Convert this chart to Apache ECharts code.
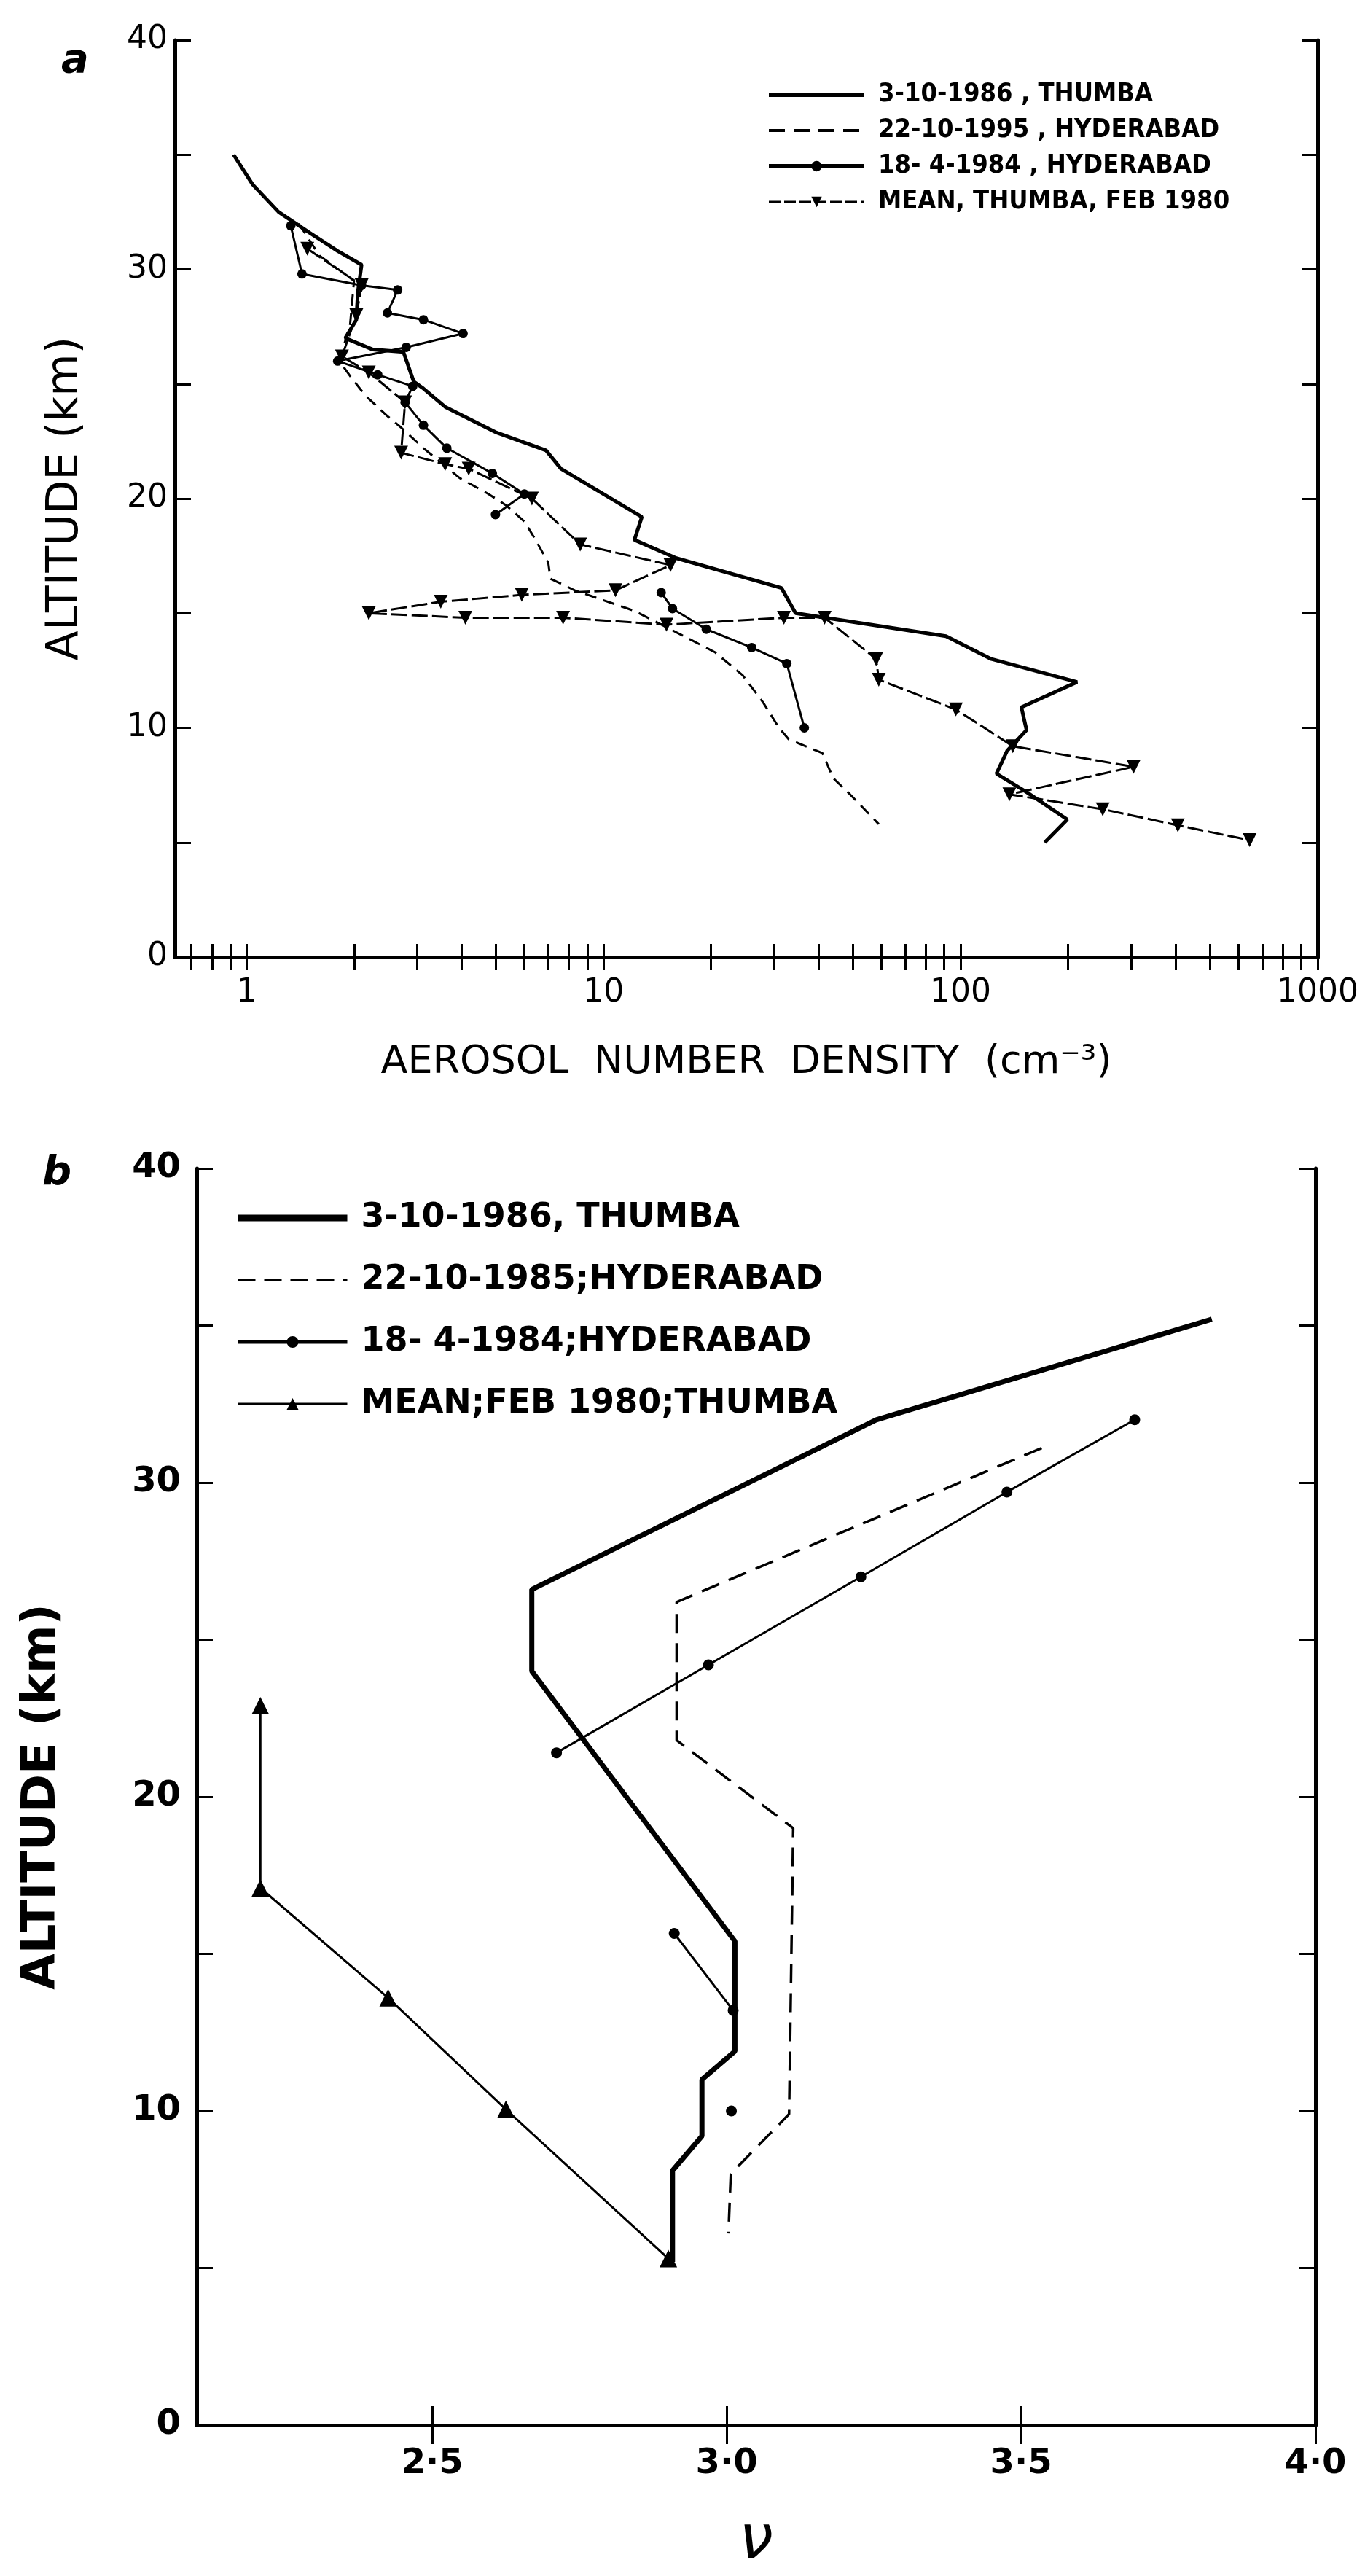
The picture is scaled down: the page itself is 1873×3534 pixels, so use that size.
<!DOCTYPE html>
<html>
<head>
<meta charset="utf-8">
<title>Aerosol profiles</title>
<script src="https://cdn.jsdelivr.net/npm/echarts/dist/echarts.min.js"></script>
<style>
  html, body { margin: 0; padding: 0; background: #fff; }
  #chart { width: 1873px; height: 3534px; }
</style>
</head>
<body>
<div id="chart"></div>
<script>
// ---- panel a : aerosol number density (cm-3) vs altitude (km) ----
var thumba86A = [
  [0.92, 35.0], [1.04, 33.7], [1.23, 32.5], [1.5, 31.6], [1.8, 30.8], [2.1, 30.2],
  [2.05, 29.0], [2.03, 27.8], [1.89, 27.0], [2.26, 26.5], [2.75, 26.4], [2.94, 25.1],
  [3.13, 24.8], [3.6, 24.0], [4.98, 22.9], [6.9, 22.1], [7.6, 21.3], [12.8, 19.2],
  [12.2, 18.2], [16, 17.4], [31.5, 16.1], [34.5, 15.0], [91, 14.0], [122, 13.0],
  [212, 12.0], [148, 10.9], [153, 9.9], [135, 9.0], [126, 8.0], [153, 7.2],
  [199, 6.0], [172, 5.0]
];
var hyd85A = [
  [1.4, 32.0], [1.6, 30.6], [2.0, 29.5], [1.95, 27.6], [1.82, 26.0], [1.96, 25.3],
  [2.15, 24.5], [2.48, 23.6], [2.71, 23.1], [3.13, 22.2], [3.95, 20.9], [4.76, 20.2],
  [5.34, 19.7], [6.0, 19.0], [6.45, 18.2], [7.0, 17.2], [7.1, 16.5], [8.3, 16.0],
  [12.2, 15.1], [16.3, 14.1], [20.5, 13.3], [24.5, 12.3], [28, 11.1], [31, 10.0],
  [33, 9.5], [41, 8.9], [44, 7.8], [49, 7.1], [59, 5.8]
];
var hyd84A_upper = [
  [1.33, 31.9], [1.43, 29.8], [2.1, 29.3], [2.65, 29.1], [2.48, 28.1], [3.13, 27.8],
  [4.04, 27.2], [2.8, 26.6], [1.8, 26.0], [2.33, 25.4], [2.92, 24.9], [2.78, 24.2],
  [3.13, 23.2], [3.64, 22.2], [4.88, 21.1], [6.0, 20.2], [4.98, 19.3]
];
var hyd84A_lower = [
  [14.5, 15.9], [15.6, 15.2], [19.4, 14.3], [26, 13.5], [32.6, 12.8], [36.5, 10.0]
];
var meanA = [
  [1.48, 30.9], [2.1, 29.3], [2.03, 28.0], [1.85, 26.2], [2.2, 25.5], [2.78, 24.2],
  [2.71, 22.0], [3.6, 21.5], [4.19, 21.3], [6.3, 20.0], [8.6, 18.0], [15.4, 17.1],
  [10.8, 16.0], [5.9, 15.8], [3.5, 15.5], [2.2, 15.0], [4.1, 14.8], [7.7, 14.8],
  [15, 14.5], [32, 14.8], [41.6, 14.8], [58, 13.0], [59, 12.1], [97, 10.8],
  [140, 9.2], [305, 8.3], [137, 7.1], [250, 6.45], [406, 5.75], [645, 5.1]
];
var tickLabelsA = [1, 10, 100, 1000];
var tickMarksA = [0.7, 0.8, 0.9, 1, 2, 3, 4, 5, 6, 7, 8, 9, 10, 20, 30, 40, 50, 60, 70, 80, 90,
  100, 200, 300, 400, 500, 600, 700, 800, 900, 1000];
var namesA = ['3-10-1986 , THUMBA', '22-10-1995 , HYDERABAD', '18- 4-1984 , HYDERABAD', 'MEAN, THUMBA, FEB 1980'];

// ---- panel b : nu vs altitude (km) ----
var thumba86B = [
  [3.824, 35.2], [3.254, 32.0], [2.669, 26.6], [2.669, 24.0], [3.014, 15.4], [3.014, 11.9],
  [2.958, 11.0], [2.958, 9.2], [2.908, 8.1], [2.908, 5.2]
];
var hyd85B = [
  [3.535, 31.1], [2.915, 26.2], [2.915, 21.8], [3.113, 19.0], [3.106, 9.9], [3.007, 8.0], [3.003, 6.1]
];
var hyd84B_upper = [[2.711, 21.4], [2.969, 24.2], [3.228, 27.0], [3.476, 29.7], [3.693, 32.0]];
var hyd84B_mid = [[2.911, 15.65], [3.011, 13.2]];
var hyd84B_low = [[3.008, 10.0]];
var meanB = [[2.208, 22.9], [2.208, 17.1], [2.425, 13.6], [2.625, 10.05], [2.901, 5.3]];
var tickLabelsB = [2.5, 3.0, 3.5, 4.0];
var namesB = ['3-10-1986, THUMBA', '22-10-1985;HYDERABAD', '18- 4-1984;HYDERABAD', 'MEAN;FEB 1980;THUMBA'];

var FONT = "'DejaVu Sans', sans-serif";
var FONT_NARROW = "'DejaVu Sans Condensed', 'DejaVu Sans', sans-serif";
var INK = '#000';
var NO_MARK = { color: 'rgba(0,0,0,0)', borderWidth: 0 };

function yAxes(gridIndex, labelSize, bold, nameSize, nameGap) {
  var weight = bold ? 'bold' : 'normal';
  var base = {
    gridIndex: gridIndex, type: 'value', min: 0, max: 40, interval: 5,
    axisLine: { show: true, lineStyle: { color: INK, width: 5 } },
    axisTick: { show: true, inside: true, length: 22, lineStyle: { color: INK, width: 3 } },
    splitLine: { show: false }
  };
  var left = Object.assign({}, base, {
    position: 'left',
    name: 'ALTITUDE (km)', nameLocation: 'middle', nameGap: nameGap,
    nameTextStyle: { color: INK, fontSize: nameSize, fontFamily: FONT, fontWeight: weight },
    axisLabel: {
      show: true, margin: bold ? 22 : 10, color: INK, fontSize: labelSize, fontFamily: FONT,
      fontWeight: weight,
      formatter: function (v) { return v % 10 === 0 ? String(v) : ''; }
    }
  });
  var right = Object.assign({}, base, { position: 'right', axisLabel: { show: false } });
  return [left, right];
}

var yA = yAxes(0, 44, false, 60, 120);
var yB = yAxes(1, 48, true, 64, 180);

var option = {
  animation: false,
  backgroundColor: '#fff',
  grid: [
    { left: 240, top: 55, width: 1568, height: 1258 },
    { left: 270, top: 1603, width: 1535, height: 1724 }
  ],
  xAxis: [
    {
      gridIndex: 0, type: 'log', logBase: 10, min: 0.63, max: 1000, position: 'bottom',
      name: 'AEROSOL  NUMBER  DENSITY  (cm⁻³)', nameLocation: 'middle', nameGap: 118,
      nameTextStyle: { color: INK, fontSize: 54, fontFamily: FONT },
      axisLine: { show: true, lineStyle: { color: INK, width: 5 } },
      axisTick: { show: true, inside: true, length: 18, customValues: tickMarksA, lineStyle: { color: INK, width: 3 } },
      axisLabel: {
        show: true, margin: 28, color: INK, fontSize: 44, fontFamily: FONT, customValues: tickLabelsA,
        formatter: function (v) { return String(Math.round(v)); }
      },
      splitLine: { show: false }, minorTick: { show: false }
    },
    {
      gridIndex: 0, type: 'log', logBase: 10, min: 0.63, max: 1000, position: 'top',
      axisLine: { show: true, lineStyle: { color: INK, width: 5 } },
      axisTick: { show: true, inside: true, length: 18, customValues: tickMarksA, lineStyle: { color: INK, width: 3 } },
      axisLabel: { show: false }, splitLine: { show: false }
    },
    {
      gridIndex: 1, type: 'value', min: 2.1, max: 4.0, position: 'bottom',
      name: 'ν', nameLocation: 'middle', nameGap: 118,
      nameTextStyle: { color: INK, fontSize: 84, fontFamily: FONT, fontStyle: 'italic' },
      axisLine: { show: true, lineStyle: { color: INK, width: 5 } },
      axisTick: { show: true, inside: true, length: 26, customValues: tickLabelsB, lineStyle: { color: INK, width: 3 } },
      axisLabel: {
        show: true, margin: 30, color: INK, fontSize: 48, fontFamily: FONT, fontWeight: 'bold',
        customValues: tickLabelsB,
        formatter: function (v) { return v.toFixed(1).replace('.', '·'); }
      },
      splitLine: { show: false }
    },
    {
      gridIndex: 1, type: 'value', min: 2.1, max: 4.0, position: 'top',
      axisLine: { show: true, lineStyle: { color: INK, width: 5 } },
      axisTick: { show: true, inside: true, length: 26, customValues: tickLabelsB, lineStyle: { color: INK, width: 3 } },
      axisLabel: { show: false }, splitLine: { show: false }
    }
  ],
  yAxis: [yA[0], yA[1], yB[0], yB[1]],
  legend: [
    {
      data: [
        { name: namesA[0], itemStyle: NO_MARK, lineStyle: { width: 6 } },
        { name: namesA[1], itemStyle: NO_MARK, lineStyle: { width: 4, type: [22, 12] } },
        { name: namesA[2], lineStyle: { width: 6 } },
        { name: namesA[3], lineStyle: { width: 3, type: [16, 5] } }
      ],
      orient: 'vertical', left: 1052, top: 112,
      itemWidth: 131, itemHeight: 18, itemGap: 13, padding: 0,
      textStyle: { color: INK, fontSize: 36, lineHeight: 36, fontFamily: FONT_NARROW, fontWeight: 'bold', padding: [0, 0, 0, 14] },
      selectedMode: false
    },
    {
      data: [
        { name: namesB[0], itemStyle: NO_MARK, lineStyle: { width: 9 } },
        { name: namesB[1], itemStyle: NO_MARK, lineStyle: { width: 4, type: [24, 12] } },
        { name: namesB[2], lineStyle: { width: 5 } },
        { name: namesB[3], lineStyle: { width: 3 } }
      ],
      orient: 'vertical', left: 322, top: 1648,
      itemWidth: 150, itemHeight: 20, itemGap: 39, padding: 0,
      textStyle: { color: INK, fontSize: 46, lineHeight: 46, fontFamily: FONT, fontWeight: 'bold', padding: [0, 0, 0, 14] },
      selectedMode: false
    }
  ],
  graphic: [
    { type: 'text', left: 84, top: 56, style: { text: 'a', font: 'italic bold 56px ' + FONT, fill: INK } },
    { type: 'text', left: 58, top: 1582, style: { text: 'b', font: 'italic bold 56px ' + FONT, fill: INK } }
  ],
  series: [
    // panel a
    { name: namesA[0], type: 'line', xAxisIndex: 0, yAxisIndex: 0, data: thumba86A,
      symbol: 'none', itemStyle: { color: INK }, lineStyle: { color: INK, width: 5 } },
    { name: namesA[1], type: 'line', xAxisIndex: 0, yAxisIndex: 0, data: hyd85A,
      symbol: 'none', itemStyle: { color: INK }, lineStyle: { color: INK, width: 3, type: [16, 10] } },
    { name: namesA[2], type: 'line', xAxisIndex: 0, yAxisIndex: 0, data: hyd84A_upper,
      symbol: 'circle', symbolSize: 13, itemStyle: { color: INK }, lineStyle: { color: INK, width: 3 } },
    { name: namesA[2], type: 'line', xAxisIndex: 0, yAxisIndex: 0, data: hyd84A_lower,
      symbol: 'circle', symbolSize: 13, itemStyle: { color: INK }, lineStyle: { color: INK, width: 3 } },
    { name: namesA[3], type: 'line', xAxisIndex: 0, yAxisIndex: 0, data: meanA,
      symbol: 'triangle', symbolRotate: 180, symbolSize: 19, itemStyle: { color: INK },
      lineStyle: { color: INK, width: 3, type: [22, 6] } },
    // panel b
    { name: namesB[0], type: 'line', xAxisIndex: 2, yAxisIndex: 2, data: thumba86B,
      symbol: 'none', itemStyle: { color: INK }, lineStyle: { color: INK, width: 7 } },
    { name: namesB[1], type: 'line', xAxisIndex: 2, yAxisIndex: 2, data: hyd85B,
      symbol: 'none', itemStyle: { color: INK }, lineStyle: { color: INK, width: 3.5, type: [26, 14] } },
    { name: namesB[2], type: 'line', xAxisIndex: 2, yAxisIndex: 2, data: hyd84B_upper,
      symbol: 'circle', symbolSize: 15, itemStyle: { color: INK }, lineStyle: { color: INK, width: 3 } },
    { name: namesB[2], type: 'line', xAxisIndex: 2, yAxisIndex: 2, data: hyd84B_mid,
      symbol: 'circle', symbolSize: 15, itemStyle: { color: INK }, lineStyle: { color: INK, width: 3 } },
    { name: namesB[2], type: 'line', xAxisIndex: 2, yAxisIndex: 2, data: hyd84B_low,
      symbol: 'circle', symbolSize: 15, itemStyle: { color: INK }, lineStyle: { color: INK, width: 3 } },
    { name: namesB[3], type: 'line', xAxisIndex: 2, yAxisIndex: 2, data: meanB,
      symbol: 'triangle', symbolSize: 24, itemStyle: { color: INK }, lineStyle: { color: INK, width: 3 } }
  ]
};

var chart = echarts.init(document.getElementById('chart'), null, { renderer: 'canvas' });
chart.setOption(option);
</script>
</body>
</html>
